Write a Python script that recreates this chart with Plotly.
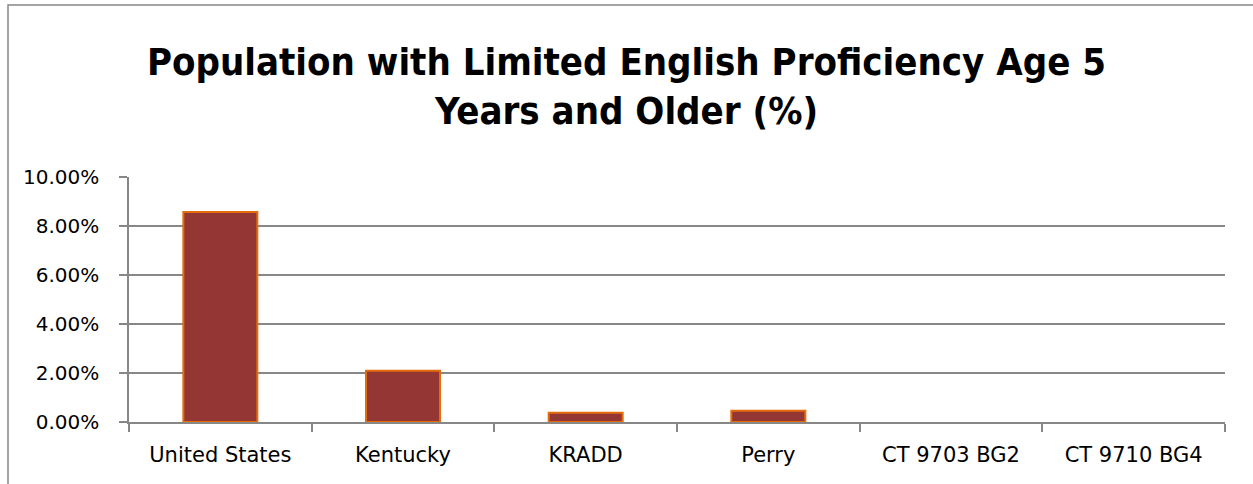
import plotly.graph_objects as go

categories = ["United States", "Kentucky", "KRADD", "Perry", "CT 9703 BG2", "CT 9710 BG4"]
values = [0.0857, 0.0209, 0.0038, 0.0046, 0.0, 0.0]
y_ticks = [0.0, 0.02, 0.04, 0.06, 0.08, 0.10]
y_tick_labels = ["0.00%", "2.00%", "4.00%", "6.00%", "8.00%", "10.00%"]
title_text = "Population with Limited English Proficiency Age 5<br>Years and Older (%)"

W, H = 1253, 484
L, R, T, B = 129, 28, 177, 62
pw, ph = W - L - R, H - T - B

fig = go.Figure(go.Bar(
    x=categories, y=values,
    marker=dict(color="#943634",
                line=dict(color="#E46C0A", width=[2 if v > 0 else 0 for v in values])),
))

def px_x(p):
    return (p - L) / pw

def px_y(p):
    return (H - B - p) / ph

GRID = "#878787"
fig.update_layout(
    width=W, height=H,
    margin=dict(l=L, r=R, t=T, b=B),
    plot_bgcolor="white", paper_bgcolor="white",
    bargap=0.595,
    showlegend=False,
    font=dict(family="DejaVu Sans", color="black", size=18),
    title=dict(
        text=title_text,
        x=0.5, xref="container", xanchor="center",
        y=1 - 75 / H, yanchor="middle", yref="container",
        font=dict(family="Liberation Sans Narrow, DejaVu Sans Condensed, DejaVu Sans",
                  size=38, color="black", weight="bold"),
    ),
    xaxis=dict(
        type="category",
        showline=True, linecolor=GRID, linewidth=1.5,
        ticks="outside", tickson="boundaries", ticklen=8, tickcolor=GRID, tickwidth=1.5,
        showgrid=False,
        ticklabelstandoff=13,
        tickfont=dict(family="DejaVu Sans", size=21, color="black"),
    ),
    yaxis=dict(
        range=[0, 0.10],
        tickvals=y_ticks, ticktext=y_tick_labels,
        showline=True, linecolor=GRID, linewidth=1.5,
        ticks="outside", ticklen=8, tickcolor=GRID, tickwidth=1.5,
        showgrid=True, gridcolor=GRID, gridwidth=1.5,
        zeroline=False,
        ticklabelstandoff=16,
        tickfont=dict(family="DejaVu Sans", size=20, color="black"),
    ),
    shapes=[
        dict(type="rect", xref="paper", yref="paper",
             x0=px_x(8), x1=px_x(1262), y0=px_y(5), y1=px_y(495),
             line=dict(color=GRID, width=1.5), fillcolor="rgba(0,0,0,0)", layer="below"),
    ],
)

fig.write_html("out.html", config={"displayModeBar": False},
               post_script="document.body.style.margin='0';document.body.style.overflow='hidden';")
